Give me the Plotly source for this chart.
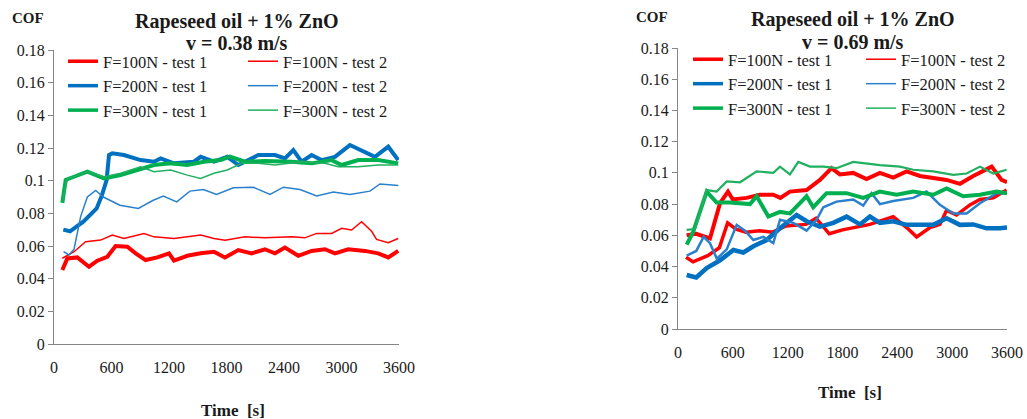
import plotly.graph_objects as go

W, H = 1027, 419

# ---------------- v = 0.38 m/s ----------------
a_red1_t = [87, 139, 243, 365, 452, 556, 643, 765, 852, 956, 1078, 1200, 1252, 1391, 1530, 1669, 1784,
            1923, 2062, 2201, 2306, 2410, 2549, 2688, 2827, 2931, 3070, 3244, 3383, 3488, 3592]
a_red1 = [0.0453, 0.0524, 0.053, 0.0473, 0.051, 0.0534, 0.060, 0.0596, 0.0555, 0.0514, 0.053, 0.0555, 0.051,
          0.054, 0.0555, 0.0565, 0.053, 0.0575, 0.0555, 0.058, 0.0555, 0.059, 0.054, 0.057, 0.058, 0.0555,
          0.058, 0.057, 0.0555, 0.053, 0.057]

a_red2_t = [87, 209, 330, 487, 608, 730, 939, 1043, 1252, 1530, 1669, 1784, 1993, 2201, 2480, 2618, 2740,
            2897, 3001, 3105, 3210, 3314, 3366, 3488, 3592]
a_red2 = [0.0525, 0.0565, 0.0626, 0.0636, 0.0667, 0.0646, 0.0677, 0.0656, 0.0646, 0.0667, 0.0646, 0.0636,
          0.0656, 0.065, 0.0656, 0.065, 0.0677, 0.0677, 0.0708, 0.0698, 0.0749, 0.069, 0.064, 0.062, 0.0646]

a_blue1_t = [97, 167, 306, 445, 497, 549, 574, 608, 730, 904, 1043, 1113, 1252, 1460, 1530, 1669, 1808,
             1923, 2132, 2306, 2410, 2497, 2584, 2688, 2792, 2931, 3088, 3244, 3349, 3488, 3592]
a_blue1 = [0.070, 0.069, 0.0749, 0.083, 0.0906, 0.1004, 0.1157, 0.1167, 0.1157, 0.1126, 0.1116, 0.1136,
           0.1106, 0.1116, 0.1146, 0.1116, 0.1146, 0.1096, 0.1157, 0.1157, 0.1136, 0.1187, 0.1116, 0.1157,
           0.1126, 0.1146, 0.1218, 0.1177, 0.1146, 0.1208, 0.1126]

a_blue2_t = [100, 156, 209, 278, 348, 435, 514, 688, 880, 1036, 1141, 1280, 1419, 1558, 1697, 1871, 2080,
             2254, 2393, 2567, 2741, 2915, 3089, 3297, 3401, 3593]
a_blue2 = [0.0565, 0.0545, 0.058, 0.078, 0.090, 0.094, 0.090, 0.085, 0.083, 0.088, 0.0906, 0.087, 0.0936,
           0.0946, 0.0916, 0.0956, 0.096, 0.0916, 0.096, 0.0946, 0.0906, 0.093, 0.0916, 0.0936, 0.098, 0.097]

a_green1_t = [87, 122, 209, 348, 522, 695, 869, 1043, 1217, 1391, 1565, 1738, 1836, 1993, 2201, 2480, 2688,
              2897, 3001, 3175, 3383, 3592]
a_green1 = [0.0864, 0.1004, 0.1024, 0.1055, 0.1014, 0.1034, 0.1065, 0.1096, 0.1106, 0.1096, 0.1116, 0.1126,
            0.1147, 0.1116, 0.112, 0.1116, 0.1106, 0.1126, 0.1096, 0.1126, 0.1126, 0.1106]

a_green2_t = [87, 139, 348, 522, 695, 904, 1043, 1217, 1391, 1530, 1669, 1808, 1958, 2132, 2306, 2584, 2827,
              2966, 3175, 3383, 3592]
a_green2 = [0.0875, 0.101, 0.1055, 0.1024, 0.1045, 0.1085, 0.1055, 0.1065, 0.1034, 0.1014, 0.1045, 0.1065,
            0.1106, 0.1106, 0.1096, 0.1116, 0.1106, 0.1085, 0.1085, 0.1096, 0.1096]

# ---------------- v = 0.69 m/s ----------------
b_red1_t = [95, 200, 350, 460, 547, 600, 750, 897, 1043, 1120, 1225, 1407, 1553, 1680, 1771, 1917, 2063,
            2209, 2355, 2501, 2647, 2793, 2939, 3085, 3231, 3432, 3541, 3600]
b_red1 = [0.060, 0.061, 0.058, 0.0806, 0.088, 0.083, 0.084, 0.086, 0.086, 0.084, 0.088, 0.089, 0.0955,
          0.103, 0.099, 0.100, 0.096, 0.100, 0.097, 0.101, 0.098, 0.097, 0.0955, 0.093, 0.098, 0.104, 0.0955,
          0.094]

b_red2_t = [88, 165, 325, 452, 543, 634, 744, 890, 1035, 1181, 1400, 1510, 1655, 1800, 2100, 2355, 2502,
            2611, 2757, 2866, 2939, 3048, 3194, 3304, 3450, 3596]
b_red2 = [0.046, 0.043, 0.047, 0.052, 0.068, 0.064, 0.062, 0.063, 0.062, 0.066, 0.067, 0.071, 0.061, 0.0635,
          0.067, 0.072, 0.065, 0.059, 0.065, 0.067, 0.076, 0.073, 0.0795, 0.083, 0.084, 0.089]

b_blue1_t = [95, 200, 314, 460, 606, 715, 825, 970, 1116, 1298, 1407, 1553, 1699, 1845, 1991, 2100, 2209,
             2355, 2501, 2647, 2793, 2939, 3085, 3231, 3377, 3523, 3600]
b_blue1 = [0.0346, 0.033, 0.039, 0.044, 0.0506, 0.049, 0.053, 0.057, 0.0645, 0.073, 0.069, 0.0656, 0.068,
           0.072, 0.067, 0.072, 0.068, 0.069, 0.0667, 0.067, 0.0667, 0.071, 0.0667, 0.067, 0.0645, 0.0645, 0.065]

b_blue2_t = [95, 200, 280, 350, 425, 533, 642, 733, 825, 934, 1043, 1116, 1262, 1407, 1517, 1590, 1735,
             1917, 2027, 2118, 2209, 2355, 2574, 2720, 2866, 3012, 3158, 3304, 3486, 3600]
b_blue2 = [0.047, 0.050, 0.059, 0.055, 0.045, 0.051, 0.0667, 0.063, 0.057, 0.059, 0.055, 0.070, 0.068,
           0.063, 0.070, 0.078, 0.0816, 0.083, 0.079, 0.087, 0.080, 0.082, 0.084, 0.088, 0.0795, 0.074, 0.074,
           0.0806, 0.087, 0.087]

b_green1_t = [95, 165, 314, 423, 569, 788, 861, 989, 1116, 1225, 1407, 1480, 1626, 1845, 2027, 2209, 2391,
              2574, 2793, 2939, 3121, 3304, 3486, 3600]
b_green1 = [0.054, 0.062, 0.088, 0.081, 0.081, 0.080, 0.085, 0.072, 0.075, 0.074, 0.085, 0.078, 0.087, 0.087,
            0.084, 0.088, 0.086, 0.088, 0.086, 0.090, 0.085, 0.086, 0.088, 0.087]

b_green2_t = [95, 185, 314, 423, 533, 679, 861, 1043, 1116, 1225, 1316, 1444, 1590, 1735, 1917, 2063, 2209,
              2428, 2574, 2793, 3012, 3158, 3304, 3450, 3596]
b_green2 = [0.0635, 0.064, 0.089, 0.088, 0.0945, 0.094, 0.101, 0.100, 0.104, 0.099, 0.107, 0.104, 0.104,
            0.103, 0.107, 0.106, 0.105, 0.104, 0.102, 0.101, 0.0987, 0.0996, 0.104, 0.0996, 0.102]

x_ticks = [0, 600, 1200, 1800, 2400, 3000, 3600]
y_ticks = [0, 0.02, 0.04, 0.06, 0.08, 0.1, 0.12, 0.14, 0.16, 0.18]
y_tick_text = ["0", "0.02", "0.04", "0.06", "0.08", "0.1", "0.12", "0.14", "0.16", "0.18"]

names = ["F=100N - test 1", "F=100N - test 2", "F=200N - test 1",
         "F=200N - test 2", "F=300N - test 1", "F=300N - test 2"]
colors = ["#FF0000", "#FF0000", "#0070C0", "#2A80CC", "#00B050", "#20B060"]

FONT = "Liberation Serif"
AXIS_COL = "#868686"
TXT = "#1a1a1a"


def xp(px):
    return px / W


def yp(py):
    return 1 - py / H


fig = go.Figure()

panels = [
    ("x", "y", [(a_red1_t, a_red1), (a_red2_t, a_red2), (a_blue1_t, a_blue1),
                (a_blue2_t, a_blue2), (a_green1_t, a_green1), (a_green2_t, a_green2)],
     [4, 1.5, 4, 1.5, 4, 1.5], ("legend", "legend2")),
    ("x2", "y2", [(b_red1_t, b_red1), (b_red2_t, b_red2), (b_blue1_t, b_blue1),
                  (b_blue2_t, b_blue2), (b_green1_t, b_green1), (b_green2_t, b_green2)],
     [4, 3.5, 4.5, 2.5, 4, 2.2], ("legend3", "legend4")),
]

for xa, ya, series, widths, legs in panels:
    for i, (t, v) in enumerate(series):
        fig.add_trace(go.Scatter(x=t, y=v, mode="lines", xaxis=xa, yaxis=ya,
                                 line=dict(color=colors[i], width=widths[i]),
                                 showlegend=False, hoverinfo="skip"))
    # legend entries: test 1 in the first column, test 2 in the second
    for i, nm in enumerate(names):
        fig.add_trace(go.Scatter(x=[None], y=[None], mode="lines", xaxis=xa, yaxis=ya,
                                 name=nm, legend=legs[i % 2],
                                 line=dict(color=colors[i], width=3.5 if i % 2 == 0 else 1.5)))


def legend_box(left_px, top_px):
    return dict(x=xp(left_px), y=yp(top_px), xanchor="left", yanchor="top",
                bgcolor="rgba(0,0,0,0)", borderwidth=0, tracegroupgap=0,
                font=dict(family=FONT, size=16.5, color=TXT), orientation="v")


def xaxis(domain, anchor):
    return dict(domain=domain, anchor=anchor, range=[0, 3600], tickvals=x_ticks,
                showline=True, linecolor=AXIS_COL, linewidth=1, ticks="outside", ticklen=9,
                tickcolor="rgba(0,0,0,0)", showgrid=False, zeroline=False,
                tickfont=dict(family=FONT, size=16, color=TXT))


def yaxis(domain, anchor):
    return dict(domain=domain, anchor=anchor, range=[0, 0.18], tickvals=y_ticks, ticktext=y_tick_text,
                showline=True, linecolor=AXIS_COL, linewidth=1, ticks="outside", ticklen=5,
                tickcolor=AXIS_COL, showgrid=False, zeroline=False,
                tickfont=dict(family=FONT, size=16, color=TXT))


fig.update_layout(
    width=W, height=H, margin=dict(l=0, r=0, t=0, b=0, autoexpand=False),
    paper_bgcolor="white", plot_bgcolor="white",
    xaxis=xaxis([xp(54), xp(399)], "y"),
    yaxis=yaxis([yp(344), yp(50)], "x"),
    xaxis2=xaxis([xp(678), xp(1007)], "y2"),
    yaxis2=yaxis([yp(329), yp(48)], "x2"),
    legend=legend_box(63, 44),
    legend2=legend_box(243, 44),
    legend3=legend_box(688, 42),
    legend4=legend_box(861, 42),
)

annotations = [
    ("<b>Rapeseed oil + 1% ZnO</b>", 237, 21, 20),
    ("<b>v = 0.38 m/s</b>", 237, 43, 20),
    ("<b>COF</b>", 28, 18, 15),
    ("<b>Time  [s]</b>", 233, 410, 17),
    ("<b>Rapeseed oil + 1% ZnO</b>", 853, 20, 20),
    ("<b>v = 0.69 m/s</b>", 853, 42, 20),
    ("<b>COF</b>", 652, 17, 15),
    ("<b>Time  [s]</b>", 850, 392, 17),
]
for text, cx, cy, size in annotations:
    fig.add_annotation(text=text, x=xp(cx), y=yp(cy), xref="paper", yref="paper",
                       xanchor="center", yanchor="middle", showarrow=False,
                       font=dict(family=FONT, size=size, color=TXT))

fig.write_html("out.html")
